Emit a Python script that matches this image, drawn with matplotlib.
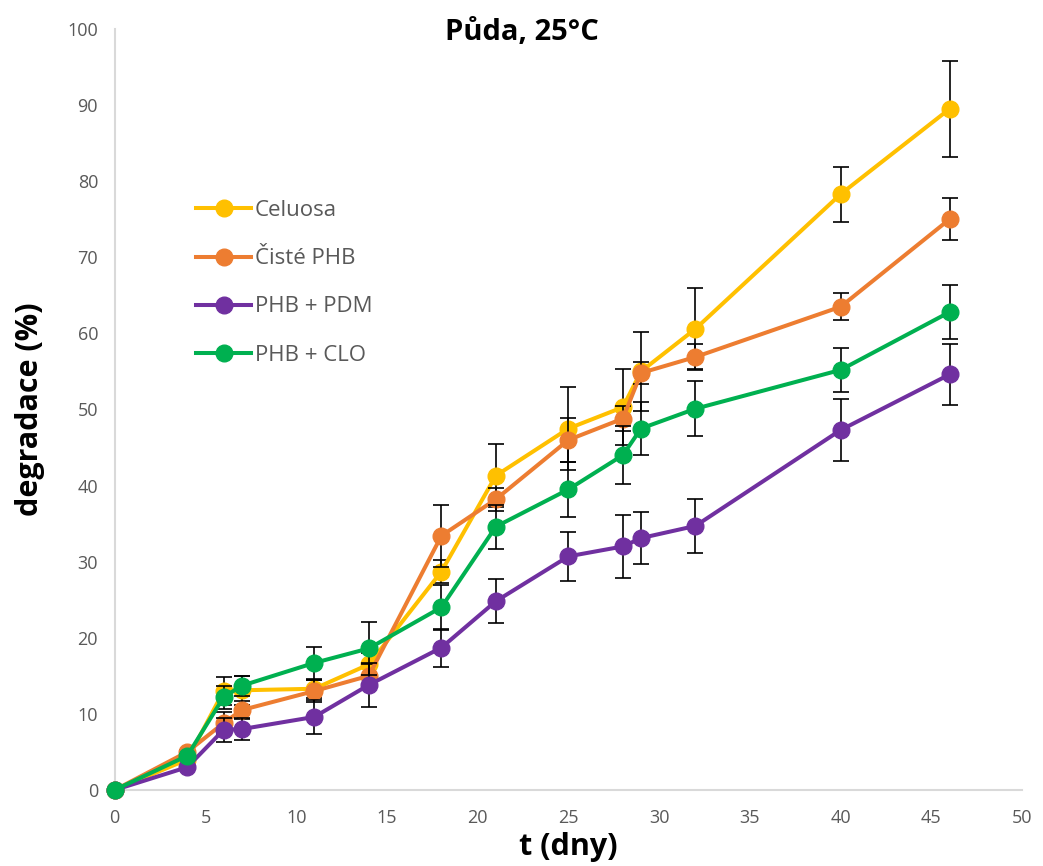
import matplotlib
matplotlib.use('Agg')
import matplotlib.pyplot as plt

# time points (days)
t = [0, 4, 6, 7, 11, 14, 18, 21, 25, 28, 29, 32, 40, 46]

celuosa = [0, 4.0, 13.0, 13.1, 13.3, 16.5, 28.7, 41.3, 47.5, 50.3, 55.0, 60.6, 78.3, 89.5]
celuosa_err = [0, 0.2, 1.8, 1.9, 1.2, 1.5, 1.5, 4.1, 5.4, 5.0, 5.2, 5.3, 3.6, 6.3]

ciste_phb = [0, 5.0, 8.8, 10.5, 13.0, 15.0, 33.4, 38.2, 46.0, 48.8, 54.8, 56.9, 63.5, 75.0]
ciste_phb_err = [0, 0.2, 1.5, 1.2, 1.4, 1.5, 4.1, 1.5, 2.9, 1.6, 1.4, 1.7, 1.8, 2.75]

phb_pdm = [0, 3.0, 7.9, 8.0, 9.6, 13.8, 18.7, 24.8, 30.7, 32.0, 33.1, 34.7, 47.3, 54.6]
phb_pdm_err = [0, 0.2, 1.55, 1.4, 2.2, 2.9, 2.5, 2.9, 3.2, 4.1, 3.4, 3.5, 4.1, 3.95]

phb_clo = [0, 4.5, 12.2, 13.7, 16.7, 18.6, 24.0, 34.6, 39.5, 44.0, 47.5, 50.1, 55.2, 62.8]
phb_clo_err = [0, 0.2, 1.5, 1.3, 2.1, 3.5, 3.0, 2.9, 3.6, 3.8, 3.5, 3.6, 2.9, 3.6]

labels = ['Celuosa', 'Čisté PHB', 'PHB + PDM', 'PHB + CLO']
series = [celuosa, ciste_phb, phb_pdm, phb_clo]
errors = [celuosa_err, ciste_phb_err, phb_pdm_err, phb_clo_err]
colors = ['#FFC000', '#ED7D31', '#7030A0', '#00B050']

plt.rcParams['font.family'] = ['Open Sans', 'DejaVu Sans']

fig = plt.figure(figsize=(10.43, 8.66), dpi=100)
ax = fig.add_axes([0.110, 0.0878, 0.870, 0.8787])

z = 3
for vals, err, col, lab in zip(series, errors, colors, labels):
    ax.errorbar(t, vals, yerr=err, fmt='none', ecolor='black', elinewidth=1.2,
                capsize=6, capthick=1.2, zorder=z)
    ax.plot(t, vals, color=col, linewidth=2.9, marker='o', markersize=12,
            label=lab, zorder=z + 0.5, clip_on=False)
    z += 1

ax.set_xlim(0, 50)
ax.set_ylim(0, 100)
ax.set_xticks(range(0, 51, 5))
ax.set_yticks(range(0, 101, 10))
ax.tick_params(length=0, labelsize=13, labelcolor='#595959')
ax.tick_params(axis='x', pad=14)
ax.tick_params(axis='y', pad=12)

for side in ['top', 'right']:
    ax.spines[side].set_visible(False)
ax.spines['left'].set_color('#D9D9D9')
ax.spines['bottom'].set_color('#D9D9D9')
ax.spines['left'].set_linewidth(1.5)
ax.spines['bottom'].set_linewidth(1.5)

fig.text(0.5, 0.962, 'Půda, 25°C', fontsize=21, fontweight='bold',
         ha='center', va='center')
ax.set_xlabel('t (dny)', fontsize=22, fontweight='bold', labelpad=3)
ax.set_ylabel('degradace (%)', fontsize=22, fontweight='bold', labelpad=16)

leg = ax.legend(loc='upper left', bbox_to_anchor=(0.0893, 0.775), frameon=False,
                fontsize=16, handlelength=2.5, handletextpad=0.15,
                labelspacing=1.22, borderpad=0, borderaxespad=0)
for txt in leg.get_texts():
    txt.set_color('#595959')

fig.savefig('out.png', dpi=100)
